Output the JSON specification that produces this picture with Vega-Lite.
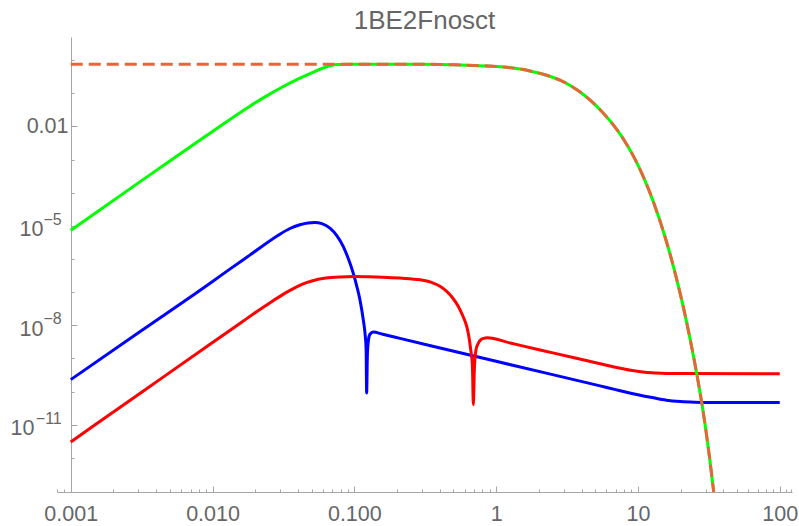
{
  "$schema": "https://vega.github.io/schema/vega-lite/v6.json",
  "width": 735,
  "height": 455,
  "autosize": "none",
  "padding": {"left": 57, "top": 37, "right": 7, "bottom": 34},
  "background": "white",
  "title": {"text": "1BE2Fnosct", "fontSize": 26, "font": "Liberation Sans", "fontWeight": "normal", "color": "#666666", "anchor": "middle", "offset": 3},
  "config": {"view": {"stroke": null}, "axis": {"grid": false}},
  "datasets": {
    "blue": [{"x":0.001,"y":2.29e-10},{"x":0.003162,"y":6.918e-9},{"x":0.01,"y":2.089e-7},{"x":0.01324,"y":4.955e-7},{"x":0.01832,"y":1.309e-6},{"x":0.02891,"y":5.105e-6},{"x":0.03512,"y":8.318e-6},{"x":0.0413,"y":1.079e-5},{"x":0.047,"y":1.225e-5},{"x":0.05272,"y":1.259e-5},{"x":0.059,"y":1.167e-5},{"x":0.0673,"y":8.53e-6},{"x":0.0754,"y":5.0e-6},{"x":0.0836,"y":2.377e-6},{"x":0.0902,"y":1.086e-6},{"x":0.0982,"y":3.75e-7},{"x":0.1043,"y":1.449e-7},{"x":0.1095,"y":5.875e-8},{"x":0.1156,"y":1.466e-8},{"x":0.1192,"y":5.176e-9},{"x":0.1211,"y":1.828e-9},{"x":0.1221,"y":9.1e-11},{"x":0.1236,"y":1.29e-9},{"x":0.1258,"y":3.66e-9},{"x":0.1288,"y":5.36e-9},{"x":0.1358,"y":6.25e-9},{"x":0.1585,"y":5.37e-9},{"x":0.2099,"y":4.03e-9},{"x":1,"y":8.17e-10},{"x":5.41,"y":1.48e-10},{"x":7.08,"y":1.125e-10},{"x":10,"y":8.05e-11},{"x":12.59,"y":6.6e-11},{"x":15.85,"y":5.5e-11},{"x":19.95,"y":5.0e-11},{"x":25.1,"y":4.79e-11},{"x":31.6,"y":4.71e-11},{"x":100,"y":4.68e-11}],
    "red": [{"x":0.001,"y":3.02e-12},{"x":0.003162,"y":9.55e-11},{"x":0.01,"y":3.02e-9},{"x":0.01585,"y":1.197e-8},{"x":0.01995,"y":2.377e-8},{"x":0.02512,"y":4.63e-8},{"x":0.03162,"y":8.71e-8},{"x":0.03981,"y":1.493e-7},{"x":0.04645,"y":1.96e-7},{"x":0.05012,"y":2.173e-7},{"x":0.0631,"y":2.655e-7},{"x":0.07943,"y":2.884e-7},{"x":0.1,"y":2.97e-7},{"x":0.1259,"y":2.92e-7},{"x":0.1585,"y":2.83e-7},{"x":0.2099,"y":2.65e-7},{"x":0.2904,"y":2.35e-7},{"x":0.3603,"y":1.87e-7},{"x":0.4018,"y":1.5e-7},{"x":0.448,"y":1.05e-7},{"x":0.4924,"y":6.76e-8},{"x":0.5412,"y":3.69e-8},{"x":0.5794,"y":2.0e-8},{"x":0.6201,"y":9.2e-9},{"x":0.6407,"y":4.83e-9},{"x":0.6619,"y":1.83e-9},{"x":0.6797,"y":6.46e-10},{"x":0.6907,"y":4.0e-11},{"x":0.7019,"y":4.56e-10},{"x":0.7211,"y":1.83e-9},{"x":0.7452,"y":2.77e-9},{"x":0.7698,"y":3.48e-9},{"x":0.8149,"y":4.03e-9},{"x":0.867,"y":4.21e-9},{"x":1.259,"y":2.91e-9},{"x":2.042,"y":1.8e-9},{"x":3.548,"y":1.05e-9},{"x":5.41,"y":6.89e-10},{"x":7.08,"y":5.33e-10},{"x":8.91,"y":4.39e-10},{"x":10.79,"y":3.89e-10},{"x":12.59,"y":3.66e-10},{"x":15.85,"y":3.52e-10},{"x":19.95,"y":3.48e-10},{"x":100,"y":3.47e-10}],
    "green": [{"x":0.001,"y":7.33e-6},{"x":0.003162,"y":2.317e-4},{"x":0.01,"y":7.079e-3},{"x":0.01834,"y":0.04093},{"x":0.02377,"y":0.0808},{"x":0.03133,"y":0.1573},{"x":0.0413,"y":0.2858},{"x":0.05103,"y":0.4305},{"x":0.05904,"y":0.5606},{"x":0.06728,"y":0.6808},{"x":0.07658,"y":0.7398},{"x":0.0931,"y":0.75},{"x":0.2,"y":0.75},{"x":0.3,"y":0.75},{"x":0.5,"y":0.7244},{"x":0.7,"y":0.6918},{"x":1.0,"y":0.6457},{"x":1.4,"y":0.561},{"x":1.82,"y":0.4487},{"x":2.3,"y":0.3443},{"x":2.82,"y":0.2483},{"x":3.35,"y":0.1694},{"x":3.91,"y":0.1094},{"x":4.6,"y":0.06209},{"x":5.41,"y":0.03199},{"x":6.25,"y":0.01607},{"x":7.13,"y":7.816e-3},{"x":8.15,"y":3.35e-3},{"x":9.25,"y":1.315e-3},{"x":10.9,"y":3.076e-4},{"x":12.8,"y":5.559e-5},{"x":15.5,"y":4.764e-6},{"x":18,"y":4.898e-7},{"x":20.4,"y":5.521e-8},{"x":23,"y":5.176e-9},{"x":26.04,"y":3.258e-10},{"x":28.25,"y":4.266e-11},{"x":30,"y":7.889e-12},{"x":32,"y":1.005e-12},{"x":34.1,"y":1.04e-13},{"x":37,"y":4.036e-15}],
    "dashed": [{"x":0.001,"y":0.75},{"x":0.01,"y":0.75},{"x":0.1,"y":0.75},{"x":0.2,"y":0.75},{"x":0.3,"y":0.75},{"x":0.5,"y":0.7244},{"x":0.7,"y":0.6918},{"x":1.0,"y":0.6457},{"x":1.4,"y":0.561},{"x":1.82,"y":0.4487},{"x":2.3,"y":0.3443},{"x":2.82,"y":0.2483},{"x":3.35,"y":0.1694},{"x":3.91,"y":0.1094},{"x":4.6,"y":0.06209},{"x":5.41,"y":0.03199},{"x":6.25,"y":0.01607},{"x":7.13,"y":7.816e-3},{"x":8.15,"y":3.35e-3},{"x":9.25,"y":1.315e-3},{"x":10.9,"y":3.076e-4},{"x":12.8,"y":5.559e-5},{"x":15.5,"y":4.764e-6},{"x":18,"y":4.898e-7},{"x":20.4,"y":5.521e-8},{"x":23,"y":5.176e-9},{"x":26.04,"y":3.258e-10},{"x":28.25,"y":4.266e-11},{"x":30,"y":7.889e-12},{"x":32,"y":1.005e-12},{"x":34.1,"y":1.04e-13},{"x":37,"y":4.036e-15}],
    "exps": [{"y":1e-5,"e":"−5"},{"y":1e-8,"e":"−8"},{"y":1e-11,"e":"−11"}]
  },
  "layer": [
    {"data": {"name": "blue"}, "mark": {"type": "line", "color": "#0000ff", "strokeWidth": 3, "interpolate": "monotone", "clip": true},
     "encoding": {
      "x": {
        "field": "x", "type": "quantitative",
        "scale": {"type": "log", "domain": [0.0008, 122], "nice": false},
        "axis": {
          "title": null,
          "values": [0.0008,0.0009,0.001,0.002,0.003,0.004,0.005,0.006,0.007,0.008,0.009,0.01,0.02,0.03,0.04,0.05,0.06,0.07,0.08,0.09,0.1,0.2,0.3,0.4,0.5,0.6,0.7,0.8,0.9,1,2,3,4,5,6,7,8,9,10,20,30,40,50,60,70,80,90,100,110,120],
          "labelExpr": "abs(log(datum.value)/LN10 - round(log(datum.value)/LN10)) < 0.000001 ? (datum.value < 1 ? format(datum.value, '.3f') : format(datum.value, 'd')) : ''",
          "domainColor": "#a6a6a6",
          "tickColor": "#a6a6a6",
          "tickSize": {"condition": {"test": "abs(log(datum.value)/LN10 - round(log(datum.value)/LN10)) < 0.000001", "value": -6}, "value": -3},
          "labelFont": "Liberation Sans",
          "labelFontSize": 21.5,
          "labelColor": "#666666",
          "labelPadding": 17,
          "labelOverlap": false,
          "labelFlush": false,
          "labelBound": false
        }
      },
      "y": {
        "field": "y", "type": "quantitative",
        "scale": {"type": "log", "domain": [9.3e-14, 5], "nice": false},
        "axis": {
          "title": null,
          "offset": -14,
          "values": [1, 0.1, 0.01, 0.001, 0.0001, 1e-5, 1e-6, 1e-7, 1e-8, 1e-9, 1e-10, 1e-11, 1e-12],
          "labelExpr": "round(log(datum.value)/LN10) == -2 ? '0.01' : (round(log(datum.value)/LN10) == -5 || round(log(datum.value)/LN10) == -8 || round(log(datum.value)/LN10) == -11) ? '10' : ''",
          "domainColor": "#a6a6a6",
          "tickColor": "#a6a6a6",
          "tickSize": {"condition": {"test": "round(log(datum.value)/LN10) == -2 || round(log(datum.value)/LN10) == -5 || round(log(datum.value)/LN10) == -8 || round(log(datum.value)/LN10) == -11", "value": -6}, "value": -3},
          "labelPadding": {"condition": [{"test": "round(log(datum.value)/LN10) == -11", "value": 43}, {"test": "round(log(datum.value)/LN10) == -2", "value": 9}], "value": 34},
          "labelOffset": {"condition": {"test": "round(log(datum.value)/LN10) == -5 || round(log(datum.value)/LN10) == -8 || round(log(datum.value)/LN10) == -11", "value": 4}, "value": 0},
          "labelFont": "Liberation Sans",
          "labelFontSize": 21.5,
          "labelColor": "#666666",
          "labelOverlap": false,
          "labelFlush": false,
          "labelBound": false
        }
      }
     }
    },
    {"data": {"name": "red"}, "mark": {"type": "line", "color": "#ff0000", "strokeWidth": 3, "interpolate": "monotone", "clip": true},
     "encoding": {"x": {"field": "x", "type": "quantitative"}, "y": {"field": "y", "type": "quantitative"}}},
    {"data": {"name": "green"}, "mark": {"type": "line", "color": "#00ff00", "strokeWidth": 3, "interpolate": "monotone", "clip": true},
     "encoding": {"x": {"field": "x", "type": "quantitative"}, "y": {"field": "y", "type": "quantitative"}}},
    {"data": {"name": "dashed"}, "mark": {"type": "line", "color": "#e8653c", "strokeWidth": 3, "strokeDash": [12, 6], "interpolate": "monotone", "clip": true},
     "encoding": {"x": {"field": "x", "type": "quantitative"}, "y": {"field": "y", "type": "quantitative"}}},
    {"data": {"name": "exps"}, "mark": {"type": "text", "align": "right", "baseline": "middle", "dx": -9, "dy": -6, "font": "Liberation Sans", "fontSize": 16, "fill": "#666666", "opacity": 1},
     "encoding": {"x": {"datum": 0.001, "type": "quantitative"}, "y": {"field": "y", "type": "quantitative"}, "text": {"field": "e", "type": "nominal"}}}
  ]
}
